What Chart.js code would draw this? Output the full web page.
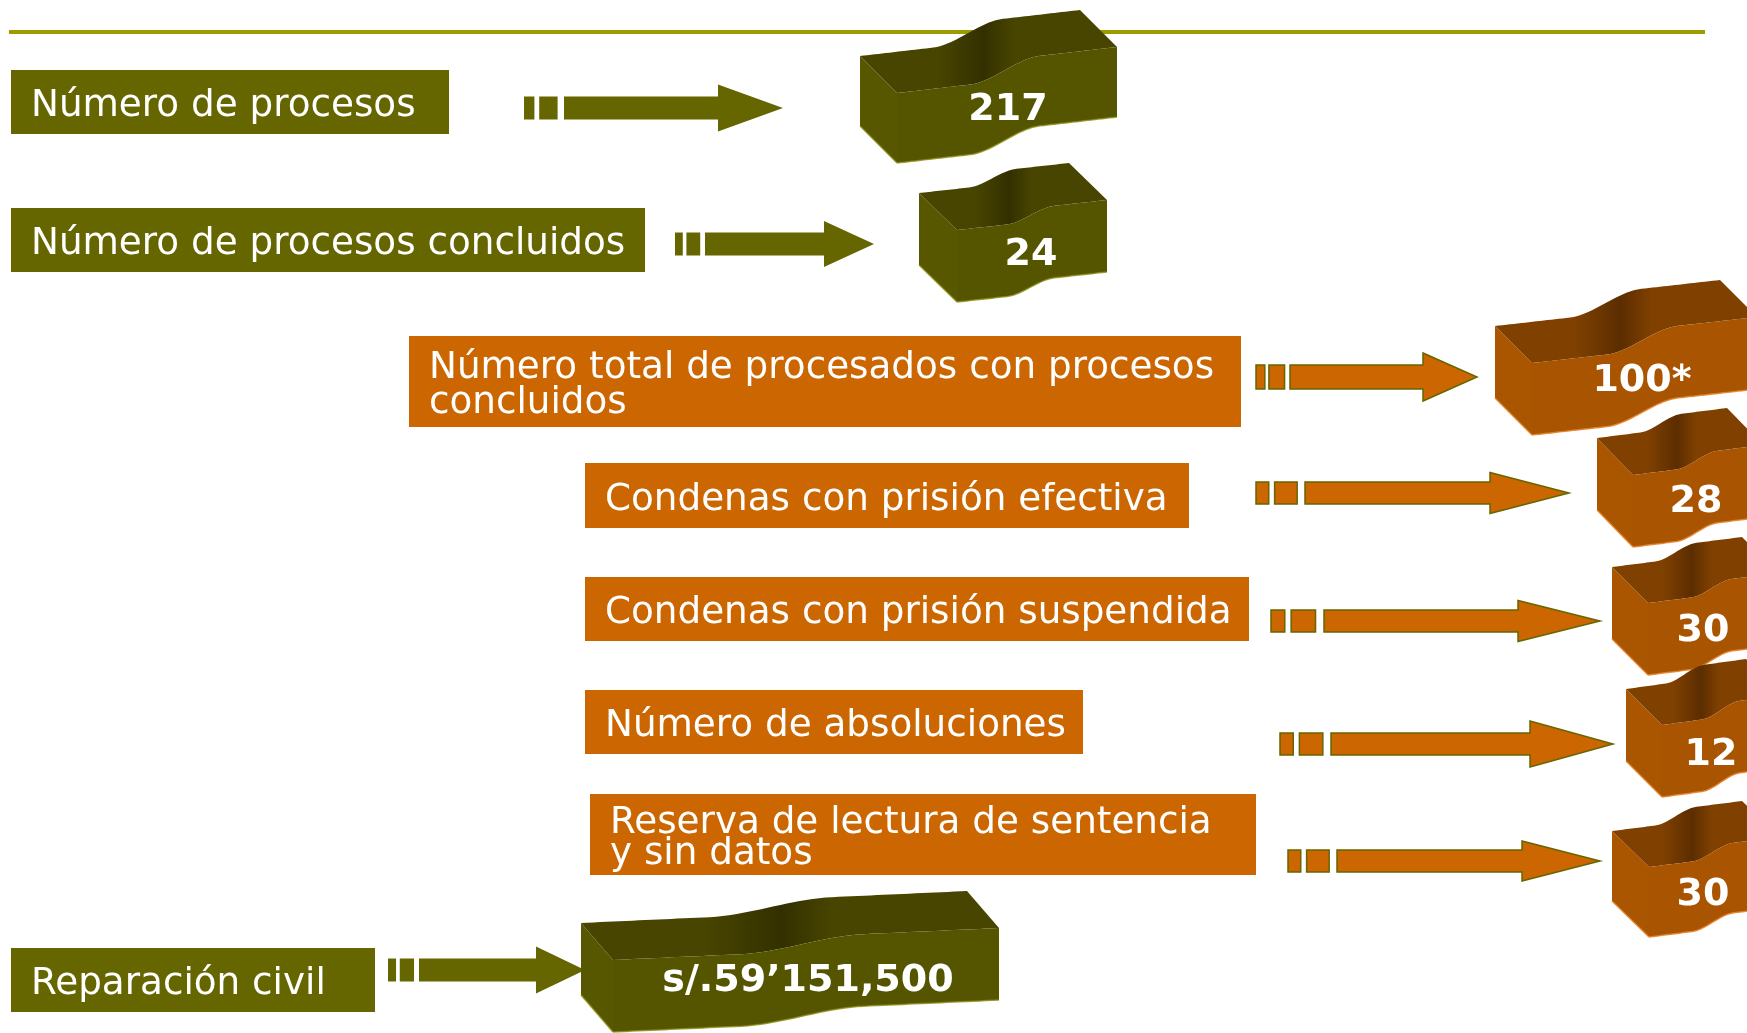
<!DOCTYPE html>
<html><head><meta charset="utf-8">
<script src="https://cdn.jsdelivr.net/npm/chart.js@4.4.1/dist/chart.umd.min.js"></script>
<style>html,body{margin:0;padding:0;background:#fff;overflow:hidden}canvas{display:block}</style>
</head><body>
<canvas id="c" width="1747" height="1033"></canvas>
<script>
// ---- data ----
const categories = [
  "Número de procesos",
  "Número de procesos concluidos",
  "Número total de procesados con procesos\nconcluidos",
  "Condenas con prisión efectiva",
  "Condenas con prisión suspendida",
  "Número de absoluciones",
  "Reserva de lectura de sentencia\ny sin datos",
  "Reparación civil"
];
const values = ["217", "24", "100*", "28", "30", "12", "30", "s/.59’151,500"];
const groups = ["olive", "olive", "orange", "orange", "orange", "orange", "orange", "olive"];

// ---- layout (units of the hidden x 0..1747 / y 0..1033 scales) ----
const labelBoxes = [[11,70,449,134],[11,208,645,272],[409,336,1241,427],[585,463,1189,528],[585,577,1249,641],[585,690,1083,754],[590,794,1256,875],[11,948,375,1012]];
const lineGaps = [0,0,35,0,0,0,31,0];
const arrows = [[524,564,718,783,108,23,47],[675,705,824,874,244,23,46],[1256,1290,1423,1477,377,24,48],[1256,1305,1490,1569,493,22,41],[1271,1324,1518,1600,621,22,41],[1280,1331,1530,1613,744,22,46],[1288,1337,1522,1600,861,22,40],[388,419,536,585,970,23,47]];
const blocks = [[897,93,220,70,46,37,37],[957,230,150,72,30,38,37],[1532,363,225,72,46,37,37],[1633,475,130,72,30,36,37],[1648,603,130,72,30,36,36],[1662,725,120,72,30,36,36],[1649,867,130,70,30,37,36],[613,960,386,72,32,32,37]];
const valuePos = [[1008,110],[1031,255],[1642,381],[1696,502],[1703,631],[1711,755],[1703,895],[808,981]];

const palette = {
  olive: {box:'#666600', arrow:'#666600', stroke:null, front:'#555500', side:'#575700', topA:'#484500', topB:'#333000', edge:'rgba(140,140,20,0.8)'},
  orange:{box:'#CC6600', arrow:'#CC6600', stroke:'#666600', front:'#A85400', side:'#AA5500', topA:'#804100', topB:'#5c2d00', edge:'rgba(230,130,40,0.9)'}
};
const FONT = '"DejaVu Sans", Verdana, sans-serif';

function wave(t){
  const s = Math.min(1, Math.max(0, (t - 0.33) / 0.32));
  return 0.55 * t + 0.45 * s * s * (3 - 2 * s);
}

const infographic = {
  id: 'infographic',
  afterDraw(chart) {
    const ctx = chart.ctx;
    const xs = chart.scales.x, ys = chart.scales.y;
    const X = v => xs.getPixelForValue(v), Y = v => ys.getPixelForValue(v);
    ctx.save();

    // top rule
    ctx.fillStyle = '#9C9C00';
    ctx.fillRect(X(9), Y(30), X(1705) - X(9), Y(34) - Y(30));

    // label boxes
    categories.forEach((cat, i) => {
      const col = palette[groups[i]];
      const [x0, y0, x1, y1] = labelBoxes[i];
      ctx.fillStyle = col.box;
      ctx.fillRect(X(x0), Y(y0), X(x1) - X(x0), Y(y1) - Y(y0));
      ctx.fillStyle = '#ffffff';
      ctx.font = '37.3px ' + FONT;
      ctx.textBaseline = 'alphabetic';
      ctx.textAlign = 'left';
      const lines = cat.split('\n');
      const cy = (y0 + y1) / 2;
      if (lines.length === 1) {
        ctx.fillText(lines[0], X(x0 + 20), Y(cy + 14));
      } else {
        const g = lineGaps[i];
        const base = cy + 14 - g / 2;
        lines.forEach((ln, k) => ctx.fillText(ln, X(x0 + 20), Y(base + k * g)));
      }
    });

    // arrows
    arrows.forEach((a, i) => {
      const col = palette[groups[i]];
      const [x0, xs0, xh, xt, cy, sh, hh] = a;
      const L = xs0 - x0;
      const segs = [[x0, x0 + 0.26 * L], [x0 + 0.38 * L, x0 + 0.84 * L]];
      ctx.fillStyle = col.arrow;
      ctx.lineWidth = 1.5;
      ctx.strokeStyle = col.stroke || col.arrow;
      segs.forEach(([p, q]) => {
        ctx.beginPath();
        ctx.rect(X(p), Y(cy - sh / 2), X(q) - X(p), Y(cy + sh / 2) - Y(cy - sh / 2));
        ctx.fill();
        if (col.stroke) ctx.stroke();
      });
      ctx.beginPath();
      ctx.moveTo(X(xs0), Y(cy - sh / 2));
      ctx.lineTo(X(xh), Y(cy - sh / 2));
      ctx.lineTo(X(xh), Y(cy - hh / 2));
      ctx.lineTo(X(xt), Y(cy));
      ctx.lineTo(X(xh), Y(cy + hh / 2));
      ctx.lineTo(X(xh), Y(cy + sh / 2));
      ctx.lineTo(X(xs0), Y(cy + sh / 2));
      ctx.closePath();
      ctx.fill();
      if (col.stroke) ctx.stroke();
    });

    // 3D blocks
    blocks.forEach((b, i) => {
      const col = palette[groups[i]];
      const [L, T, W, H, rise, dx, dy] = b;
      const N = 60;
      const top = [];
      for (let k = 0; k <= N; k++) {
        const t = k / N;
        top.push([L + t * W, T - rise * wave(t)]);
      }
      // left side face
      ctx.fillStyle = col.side;
      ctx.beginPath();
      ctx.moveTo(X(L), Y(T));
      ctx.lineTo(X(L - dx), Y(T - dy));
      ctx.lineTo(X(L - dx), Y(T - dy + H));
      ctx.lineTo(X(L), Y(T + H));
      ctx.closePath();
      ctx.fill();
      // top face
      const g = ctx.createLinearGradient(X(L - dx), 0, X(L + W), 0);
      g.addColorStop(0, col.topA);
      g.addColorStop(0.3, col.topA);
      g.addColorStop(0.48, col.topB);
      g.addColorStop(0.6, col.topA);
      g.addColorStop(1, col.topA);
      ctx.fillStyle = g;
      ctx.beginPath();
      top.forEach(([px, py], k) => k ? ctx.lineTo(X(px), Y(py)) : ctx.moveTo(X(px), Y(py)));
      for (let k = N; k >= 0; k--) ctx.lineTo(X(top[k][0] - dx), Y(top[k][1] - dy));
      ctx.closePath();
      ctx.fill();
      // front face
      ctx.fillStyle = col.front;
      ctx.beginPath();
      top.forEach(([px, py], k) => k ? ctx.lineTo(X(px), Y(py)) : ctx.moveTo(X(px), Y(py)));
      for (let k = N; k >= 0; k--) ctx.lineTo(X(top[k][0]), Y(top[k][1] + H));
      ctx.closePath();
      ctx.fill();
      ctx.strokeStyle = col.edge;
      ctx.lineWidth = 1.5;
      ctx.beginPath();
      top.forEach(([px, py], k) => k ? ctx.lineTo(X(px), Y(py + H)) : ctx.moveTo(X(px), Y(py + H)));
      ctx.stroke();
      ctx.beginPath();
      ctx.moveTo(X(L - dx), Y(T - dy + H));
      ctx.lineTo(X(L), Y(T + H));
      ctx.stroke();
    });

    // values
    ctx.fillStyle = '#ffffff';
    ctx.font = 'bold 38px ' + FONT;
    ctx.textAlign = 'center';
    ctx.textBaseline = 'middle';
    values.forEach((v, i) => {
      const [px, py] = valuePos[i];
      ctx.fillText(v, X(px), Y(py));
    });
    ctx.restore();
  }
};

new Chart(document.getElementById('c'), {
  type: 'scatter',
  data: { datasets: [{ data: [], pointRadius: 0 }] },
  options: {
    responsive: false,
    animation: false,
    devicePixelRatio: 1,
    events: [],
    layout: { padding: 0 },
    plugins: { legend: { display: false }, tooltip: { enabled: false } },
    scales: {
      x: { type: 'linear', min: 0, max: 1747, display: false },
      y: { type: 'linear', min: 0, max: 1033, reverse: true, display: false }
    }
  },
  plugins: [infographic]
});
</script>
</body></html>
